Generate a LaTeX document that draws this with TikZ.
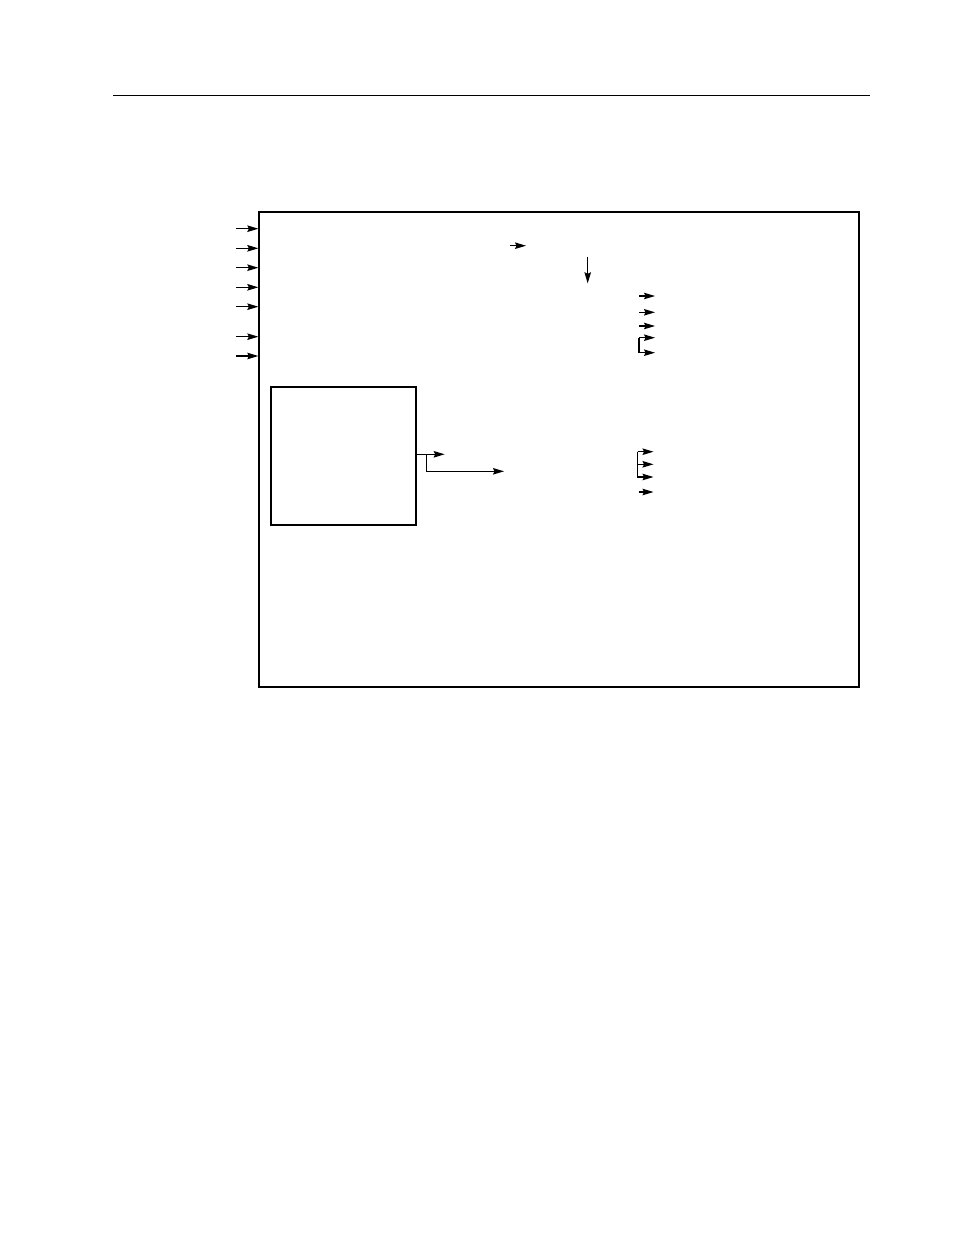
\documentclass[tikz,border=0pt]{standalone}
\usepackage{tikz}
\usetikzlibrary{arrows.meta, positioning, calc}

\tikzset{
  unitbox/.style={draw, line width=1.3pt, inner sep=0pt},
  sig/.style={line width=1.2pt, -{Stealth[length=11pt,width=6.5pt,inset=1.5pt]}},
  tie/.style={line width=1.2pt}
}

\begin{document}
\begin{tikzpicture}[x=1pt, y=-1pt]
    \useasboundingbox (0,0) rectangle (954,1235);

    % Page rule
    \draw[line width=0.9pt] (113,95) -- (870,95);

    % Boxes
    \node[unitbox, minimum width=600pt, minimum height=475pt] (chip) at (559,449.5) {};
    \node[unitbox, minimum width=145pt, minimum height=138pt] (blk) at (343.5,456) {};

    % Inputs on the left edge
    \foreach \y [count=\i] in {228.7,248.3,267.7,287.3,306.7,336.7,356} {
      \coordinate (in\i) at (236,\y);
      \draw[sig] (in\i) -- (in\i -| chip.west);
    }

    % Internal signals near the top
    \coordinate (mid) at (510,245.7);
    \draw[sig] (mid) -- ++(16,0);
    \coordinate (down) at (587.7,256.7);
    \draw[sig] (down) -- ++(0,26.6);

    % Outputs, upper group
    \foreach \y [count=\i] in {296,312.3,326} {
      \coordinate (oa\i) at (639,\y);
      \draw[sig] (oa\i) -- ++(16,0);
    }
    \coordinate (oa4) at (639,337.7);
    \draw[sig] (oa4) -- ++(16,0);
    \draw[sig] (oa4) |- ++(16,15);

    % Outputs, lower group
    \coordinate (ob1) at (637.5,451.7);
    \draw[sig] (ob1) -- ++(16,0);
    \draw[sig] (ob1) |- ++(16,12.6);
    \draw[sig] (ob1) |- ++(16,25.3);
    \coordinate (ob4) at (638.5,492);
    \draw[sig] (ob4) -- ++(15,0);

    % Block output and branch
    \coordinate (tap) at (blk.east |- 0,454.3);
    \coordinate (br) at (426.3,454.3);
    \draw[sig] (tap) -- ++(28,0);
    \draw[sig] (br) |- (504,471.3);
\end{tikzpicture}
\end{document}
